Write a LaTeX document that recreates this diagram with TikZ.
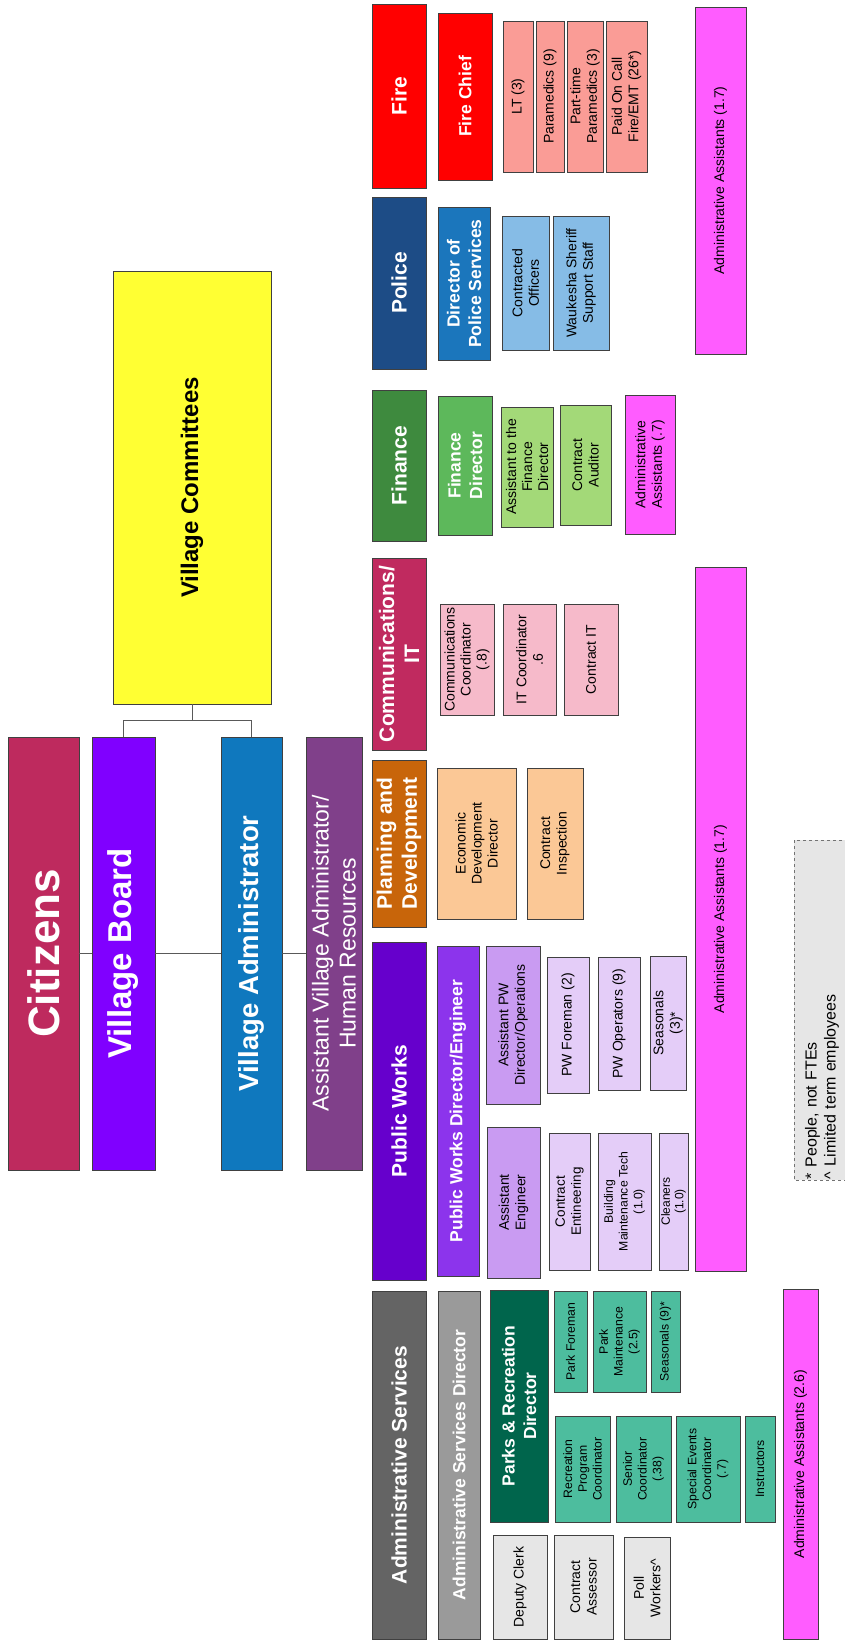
\documentclass[tikz,border=0pt]{standalone}
\usepackage{fontspec}
\setmainfont{Liberation Sans}
\usetikzlibrary{calc}

\definecolor{citizensred}{RGB}{190,42,94}
\definecolor{boardviolet}{RGB}{128,0,255}
\definecolor{adminblue}{RGB}{15,120,190}
\definecolor{hrpurple}{RGB}{128,64,138}
\definecolor{committeeyellow}{RGB}{255,255,51}
\definecolor{firered}{RGB}{255,0,0}
\definecolor{firelight}{RGB}{250,156,150}
\definecolor{policenavy}{RGB}{29,76,134}
\definecolor{policeblue}{RGB}{27,118,188}
\definecolor{policelight}{RGB}{134,188,230}
\definecolor{financedark}{RGB}{62,138,62}
\definecolor{financemid}{RGB}{93,184,91}
\definecolor{financelight}{RGB}{163,217,120}
\definecolor{commred}{RGB}{192,42,95}
\definecolor{commlight}{RGB}{246,186,202}
\definecolor{planorange}{RGB}{200,101,10}
\definecolor{planlight}{RGB}{251,200,150}
\definecolor{pwdark}{RGB}{102,0,204}
\definecolor{pwmid}{RGB}{140,52,236}
\definecolor{pwlight}{RGB}{201,155,242}
\definecolor{pwpale}{RGB}{228,205,248}
\definecolor{assistpink}{RGB}{255,92,255}
\definecolor{servgrey}{RGB}{100,100,100}
\definecolor{servmid}{RGB}{154,154,154}
\definecolor{parksdark}{RGB}{0,101,76}
\definecolor{parkslight}{RGB}{77,189,158}
\definecolor{clerkgrey}{RGB}{230,230,230}

\tikzset{
  link/.style       = {line width=0.9pt, draw=black!65},
  orgbox/.style     = {draw=black!75, line width=0.8pt, rotate=90,
                       align=center, inner sep=1pt},
  deptlabel/.style  = {text=white, font=\bfseries\fontsize{21}{25}\selectfont},
  headlabel/.style  = {text=white, font=\bfseries\fontsize{17.5}{21.5}\selectfont},
  stafflabel/.style = {font=\fontsize{14}{16.5}\selectfont},
  smallstaff/.style = {font=\fontsize{12.2}{14.8}\selectfont},
}

\begin{document}
\begin{tikzpicture}[x=1pt,y=-1pt,
    dept/.style  = {orgbox, deptlabel, minimum height=54pt},
    head/.style  = {orgbox, headlabel},
    staff/.style = {orgbox, stafflabel},
    small/.style = {orgbox, smallstaff},
  ]
  \useasboundingbox (0,0) rectangle (845,1640);

  % =======================================================================
  %  Citizens, board and administration
  % =======================================================================
  \node[orgbox, fill=citizensred, minimum width=433pt, minimum height=71pt, text=white,
        font=\bfseries\fontsize{44}{50}\selectfont] (citizens) at (43.5,953.5) {Citizens};
  \node[orgbox, fill=boardviolet, minimum width=433pt, minimum height=63pt, text=white,
        font=\bfseries\fontsize{33}{38}\selectfont] (board) at (123.5,953.5) {Village Board};
  \node[orgbox, fill=adminblue, minimum width=433pt, minimum height=61pt, text=white,
        font=\bfseries\fontsize{27.5}{32}\selectfont] (admin) at (251.5,953.5) {Village Administrator};
  \node[orgbox, fill=hrpurple, minimum width=433pt, minimum height=56pt, text=white,
        font=\fontsize{23}{27}\selectfont] (asstadmin) at (334,953.5)
        {Assistant Village Administrator/\\ Human Resources};
  \node[orgbox, fill=committeeyellow, minimum width=433pt, minimum height=158pt,
        font=\bfseries\fontsize{24}{28}\selectfont] (committees) at (192,487.5) {Village Committees};

  \draw[link] (committees.west) -- ++(0,16) coordinate (split);
  \draw[link] (split) -| (board.east);
  \draw[link] (split) -| (admin.east);
  \draw[link] (citizens.south) -- (board.north);
  \draw[link] (board.south) -- (admin.north);
  \draw[link] (admin.south) -- (asstadmin.north);

  % =======================================================================
  %  Departments
  % =======================================================================
  \node[dept, fill=firered,     minimum width=184pt] (fire)     at (399,96)    {Fire};
  \node[dept, fill=policenavy,  minimum width=172pt] (police)   at (399,283)   {Police};
  \node[dept, fill=financedark, minimum width=151pt] (finance)  at (399,465.5) {Finance};
  \node[dept, fill=commred,     minimum width=192pt] (comm)     at (399,654)   {Communications/\\ IT};
  \node[dept, fill=planorange,  minimum width=167pt] (planning) at (399,843.5) {Planning and\\ Development};
  \node[dept, fill=pwdark,      minimum width=338pt] (works)    at (399,1111)  {Public Works};
  \node[dept, fill=servgrey,    minimum width=348pt] (services) at (399,1465)  {Administrative Services};

  % ---- fire ----------------------------------------------------------------
  \node[head, fill=firered, minimum width=167pt, minimum height=54pt] (firechief) at (465,96.5) {Fire Chief};
  \node[staff, fill=firelight, minimum width=151pt, minimum height=30pt] (lt)       at (518,96.5)   {LT (3)};
  \node[staff, fill=firelight, minimum width=151pt, minimum height=28pt] (medics)   at (550,96.5)   {Paramedics (9)};
  \node[staff, fill=firelight, minimum width=151pt, minimum height=36pt] (ptmedics) at (585,96.5)   {Part-time\\ Paramedics (3)};
  \node[staff, fill=firelight, minimum width=151pt, minimum height=41pt] (oncall)   at (626.5,96.5) {Paid On Call\\ Fire/EMT (26*)};

  % ---- police --------------------------------------------------------------
  \node[head, fill=policeblue, minimum width=153pt, minimum height=52pt] (policedir) at (464,283.5)
        {Director of\\ Police Services};
  \node[staff, fill=policelight, minimum width=134pt, minimum height=47pt] (officers) at (525.5,283) {Contracted\\ Officers};
  \node[staff, fill=policelight, minimum width=134pt, minimum height=56pt] (sheriff)  at (581,283)   {Waukesha Sheriff\\ Support Staff};

  % ---- finance -------------------------------------------------------------
  \node[head, fill=financemid, minimum width=139pt, minimum height=54pt] (findir) at (465,465.5) {Finance\\ Director};
  \node[staff, fill=financelight, minimum width=120pt, minimum height=52pt,
        font=\fontsize{14}{16}\selectfont] (finasst) at (527,467)
        {Assistant to the\\ Finance\\ Director};
  \node[staff, fill=financelight, minimum width=120pt, minimum height=51pt] (auditor) at (585.5,465) {Contract\\ Auditor};
  \node[staff, fill=assistpink, minimum width=139pt, minimum height=50pt] (finaa) at (650,464.5)
        {Administrative\\ Assistants (.7)};

  % ---- communications / IT ------------------------------------------------
  \node[staff, fill=commlight, minimum width=111pt, minimum height=54pt, font=\fontsize{14}{16}\selectfont]
        (commcoord) at (467,659.5) {Communications\\ Coordinator\\ (.8)};
  \node[staff, fill=commlight, minimum width=111pt, minimum height=53pt] (itcoord)    at (529.5,659.5) {IT Coordinator\\ .6};
  \node[staff, fill=commlight, minimum width=111pt, minimum height=54pt] (contractit) at (591,659.5)   {Contract IT};

  % ---- planning and development -------------------------------------------
  \node[staff, fill=planlight, minimum width=151pt, minimum height=79pt, font=\fontsize{14}{16}\selectfont]
        (econdir) at (476.5,843.5) {Economic\\ Development\\ Director};
  \node[staff, fill=planlight, minimum width=151pt, minimum height=56pt] (inspect) at (555,843.5) {Contract\\ Inspection};

  % ---- public works --------------------------------------------------------
  \node[head, fill=pwmid, minimum width=330pt, minimum height=42pt] (pwdir) at (458,1111) {Public Works Director/Engineer};
  \node[staff, fill=pwlight, minimum width=158pt, minimum height=54pt] (pwops)  at (513,1025)    {Assistant PW\\ Director/Operations};
  \node[staff, fill=pwlight, minimum width=151pt, minimum height=53pt] (asseng) at (513.5,1202.5) {Assistant\\ Engineer};
  \node[staff, fill=pwpale, minimum width=136pt, minimum height=42pt] (foreman)   at (568,1025)   {PW Foreman (2)};
  \node[staff, fill=pwpale, minimum width=133pt, minimum height=42pt] (operators) at (619,1023.5) {PW Operators (9)};
  \node[staff, fill=pwpale, minimum width=134pt, minimum height=36pt] (pwseason)  at (668,1023)   {Seasonals\\ (3)*};
  \node[staff, fill=pwpale, minimum width=137pt, minimum height=41pt, font=\fontsize{13.5}{16}\selectfont]
        (contreng) at (569.5,1201.5) {Contract\\ Entineering};
  \node[small, fill=pwpale, minimum width=137pt, minimum height=53pt] (bldgtech) at (624.5,1201.5)
        {Building\\ Maintenance Tech\\ (1.0)};
  \node[small, fill=pwpale, minimum width=137pt, minimum height=29pt, font=\fontsize{12}{13.5}\selectfont]
        (cleaners) at (673.5,1201.5) {Cleaners\\ (1.0)};

  % ---- administrative services ---------------------------------------------
  \node[head, fill=servmid, minimum width=348pt, minimum height=42pt] (servdir) at (459,1465) {Administrative Services Director};
  \node[head, fill=parksdark, minimum width=232pt, minimum height=58pt] (parksdir) at (519,1406)
        {Parks \& Recreation\\ Director};
  \node[small, fill=parkslight, minimum width=101pt, minimum height=33pt] (parkforeman) at (570.5,1341.5) {Park Foreman};
  \node[small, fill=parkslight, minimum width=101pt, minimum height=53pt] (parkmaint)   at (619.5,1341.5) {Park\\ Maintenance\\ (2.5)};
  \node[small, fill=parkslight, minimum width=101pt, minimum height=29pt] (parkseason)  at (665.5,1341.5) {Seasonals (9)*};
  \node[small, fill=parkslight, minimum width=106pt, minimum height=55pt] (reccoord)    at (582.5,1469)   {Recreation\\ Program\\ Coordinator};
  \node[small, fill=parkslight, minimum width=106pt, minimum height=55pt] (seniorcoord) at (643.5,1469)   {Senior\\ Coordinator\\ (.38)};
  \node[small, fill=parkslight, minimum width=106pt, minimum height=64pt] (eventcoord)  at (708,1469)     {Special Events\\ Coordinator\\ (.7)};
  \node[small, fill=parkslight, minimum width=106pt, minimum height=30pt] (instructors) at (760,1469)     {Instructors};
  \node[staff, fill=clerkgrey, minimum width=104pt, minimum height=54pt] (deputy)   at (520,1587)   {Deputy Clerk};
  \node[staff, fill=clerkgrey, minimum width=104pt, minimum height=59pt] (assessor) at (583.5,1587) {Contract\\ Assessor};
  \node[staff, fill=clerkgrey, minimum width=102pt, minimum height=46pt] (poll)     at (647,1588)   {Poll\\ Workers\^{}};

  % ---- administrative assistants ------------------------------------------
  \node[staff, fill=assistpink, minimum width=347pt, minimum height=51pt] (firepoliceaa) at (720.5,180.5) {Administrative Assistants (1.7)};
  \node[staff, fill=assistpink, minimum width=704pt, minimum height=51pt] (commworksaa)  at (720.5,919)   {Administrative Assistants (1.7)};
  \node[staff, fill=assistpink, minimum width=350pt, minimum height=35pt] (servaa)       at (800.5,1464)  {Administrative Assistants (2.6)};

  % legend
  \node[orgbox, fill=clerkgrey, draw=black!55, dashed, align=left,
        text width=338pt, minimum height=56pt, font=\fontsize{16}{19}\selectfont]
        (legend) at (822,1010) {* People, not FTEs\\ \^{} Limited term employees};
\end{tikzpicture}
\end{document}
